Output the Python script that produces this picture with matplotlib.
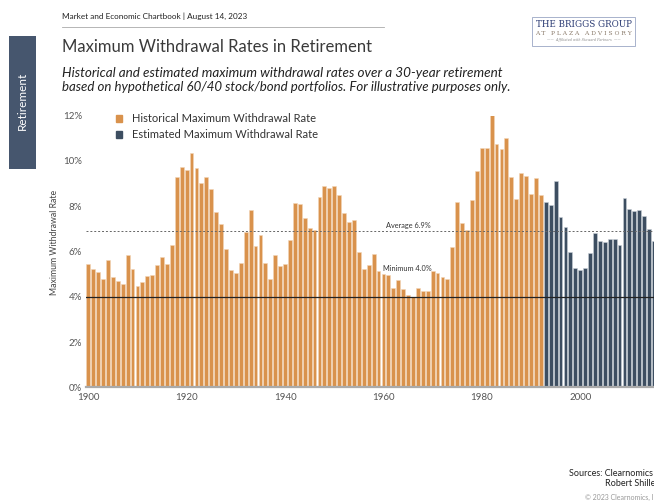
import matplotlib
matplotlib.use("Agg")
import matplotlib.pyplot as plt
from matplotlib.patches import Rectangle, Patch
from matplotlib.ticker import FuncFormatter
from matplotlib import font_manager

# ---- data ----
hist_years = list(range(1900, 1993))
hist_rates = [
    5.43, 5.23, 5.10, 4.79, 5.61, 4.89, 4.70, 4.55, 5.86, 5.23,   # 1900s
    4.46, 4.67, 4.92, 4.98, 5.39, 5.77, 5.46, 6.29, 9.29, 9.73,   # 1910s
    9.59, 10.37, 9.69, 9.04, 9.28, 8.75, 7.73, 7.23, 6.11, 5.18,  # 1920s
    5.04, 5.48, 6.88, 7.83, 6.24, 6.72, 5.48, 4.77, 5.85, 5.38,   # 1930s
    5.46, 6.52, 8.13, 8.09, 7.47, 7.05, 6.95, 8.39, 8.91, 8.81,   # 1940s
    8.90, 8.48, 7.69, 7.30, 7.41, 5.96, 5.23, 5.42, 5.89, 5.14,   # 1950s
    5.01, 4.98, 4.37, 4.74, 4.34, 4.06, 4.00, 4.39, 4.26, 4.26,   # 1960s
    5.15, 5.07, 4.87, 4.80, 6.20, 8.20, 7.28, 6.94, 8.29, 9.57,   # 1970s
    10.56, 10.56, 12.16, 10.75, 10.54, 11.00, 9.28, 8.34, 9.45, 9.35,  # 1980s
    8.53, 9.23, 8.51,                                            # 1990-92
]
est_years = list(range(1993, 2016))
est_rates = [
    8.20, 8.06, 9.12, 7.51, 7.07, 5.98, 5.29,
    5.18, 5.26, 5.94, 6.83, 6.45, 6.41, 6.57, 6.55, 6.30, 8.38,
    7.89, 7.79, 7.82, 7.58, 7.00, 6.48,
]
average_rate = 6.9
minimum_rate = 4.0
x_ticks = [1900, 1920, 1940, 1960, 1980, 2000]
y_ticks = [0, 2, 4, 6, 8, 10, 12]

ORANGE = "#D9924C"
NAVY = "#3D4E61"

available = {f.name for f in font_manager.fontManager.ttflist}
FONT = "DejaVu Sans"
for cand in ["Lato", "Open Sans", "Roboto", "Noto Sans"]:
    if cand in available:
        FONT = cand
        break
plt.rcParams["font.family"] = [FONT, "DejaVu Sans"]

fig = plt.figure(figsize=(6.54, 5.04), dpi=100)
W, H = 654, 504
renderer = fig.canvas.get_renderer()


def fx(px):
    return px / W


def fy(py):
    return 1 - py / H


def fit_text(x, y, s, target_w, fs=10, **kw):
    t = fig.text(fx(x), fy(y), s, fontsize=fs, **kw)
    w = t.get_window_extent(renderer).width
    if w > 0:
        t.set_fontsize(fs * target_w / w)
    return t


# axes: left at px 86.3 (year 1899.6), right at px 654 (year ~2015), bottom y=387.3, top y=115.7
ax = fig.add_axes([fx(86.3), fy(387.3), fx(654 - 86.3), (387.3 - 115.7) / H])
ax.bar(hist_years, hist_rates, width=0.78, color=ORANGE, edgecolor="#F3D6B8",
       linewidth=0.4, zorder=2)
ax.bar(est_years, est_rates, width=0.78, color=NAVY, edgecolor="#C9D0D8",
       linewidth=0.4, zorder=2)
ax.set_xlim(1899.6, 2015.0)
ax.set_ylim(0, 12)
ax.axhline(average_rate, color="#666666", linestyle=(0, (2, 2)), linewidth=0.7, zorder=3)
ax.axhline(minimum_rate, color="#222222", linewidth=0.9, zorder=3)
ax.text(1965.0, average_rate + 0.1, "Average 6.9%", fontsize=5.3, color="#333333",
        ha="center", va="bottom", zorder=4)
ax.text(1964.9, 5.1, "Minimum 4.0%", fontsize=5.3, color="#333333",
        ha="center", va="bottom", zorder=4)

ax.set_xticks(x_ticks)
ax.set_yticks(y_ticks)
ax.yaxis.set_major_formatter(FuncFormatter(lambda v, p: f"{int(v)}%"))
ax.tick_params(axis="both", length=0, labelsize=7, colors="#555555", pad=3)
ax.tick_params(axis="x", pad=4)
for s in ["top", "right", "left"]:
    ax.spines[s].set_visible(False)
ax.spines["bottom"].set_color("#AAAAAA")
ax.spines["bottom"].set_linewidth(1.6)
ax.set_ylabel("Maximum Withdrawal Rate", fontsize=6.3, color="#444444")
ax.yaxis.set_label_coords(-0.048, 0.533)

handles = [Patch(color=ORANGE), Patch(color=NAVY)]
leg = ax.legend(handles, ["Historical Maximum Withdrawal Rate", "Estimated Maximum Withdrawal Rate"],
                loc="upper left", bbox_to_anchor=(0.035, 1.045), frameon=False, fontsize=8.0,
                handlelength=0.55, handleheight=0.55, handletextpad=0.9, labelspacing=0.45,
                labelcolor="#333333")

# ---- header ----
fit_text(62, 16, "Market and Economic Chartbook | August 14, 2023", 186, fs=8,
         color="#222222", va="center", ha="left")
fig.add_artist(plt.Line2D([fx(62), fx(384)], [fy(27), fy(27)], color="#AAAAAA", linewidth=0.6))
fit_text(62, 47, "Maximum Withdrawal Rates in Retirement", 313, fs=16,
         color="#3A3A3A", va="center", ha="left")
fit_text(62, 73, "Historical and estimated maximum withdrawal rates over a 30-year retirement",
         441, fs=9.5, style="italic", color="#222222", va="center", ha="left")
fit_text(62, 87, "based on hypothetical 60/40 stock/bond portfolios. For illustrative purposes only.",
         451, fs=9.5, style="italic", color="#222222", va="center", ha="left")

# side tab
fig.add_artist(Rectangle((fx(9), fy(169)), fx(27), (169 - 36) / H, transform=fig.transFigure,
                         facecolor="#46566E", edgecolor="none"))
fig.text(fx(22.5), fy(101), "Retirement", rotation=90, fontsize=8.5, color="white",
         ha="center", va="center")

# logo
fig.add_artist(Rectangle((fx(532), fy(46)), fx(103), 29 / H, transform=fig.transFigure,
                         facecolor="white", edgecolor="#9AA6C4", linewidth=0.6))
fit_text(583.5, 24.5, "THE BRIGGS GROUP", 97, fs=7, family="DejaVu Serif",
         color="#2D3D75", ha="center", va="center")
fit_text(583.5, 33.5, "A T   P L A Z A   A D V I S O R Y", 97, fs=4, family="DejaVu Serif",
         color="#8A7A6A", ha="center", va="center")
fig.text(fx(583.5), fy(40.5), "\u2014\u2014  Affiliated with Steward Partners  \u2014\u2014", fontsize=2.4,
         family="DejaVu Serif", style="italic", color="#888888", ha="center", va="center")

# sources
fig.text(fx(653), fy(474), "Sources: Clearnomics", fontsize=6.5, color="#222222", ha="right", va="center")
fig.text(fx(659), fy(484), "Robert Shiller", fontsize=6.5, color="#222222", ha="right", va="center")
fig.text(fx(662), fy(497), "\u00a9 2023 Clearnomics, Inc.", fontsize=5, color="#999999", ha="right", va="center")

fig.savefig("out.png", dpi=100)
